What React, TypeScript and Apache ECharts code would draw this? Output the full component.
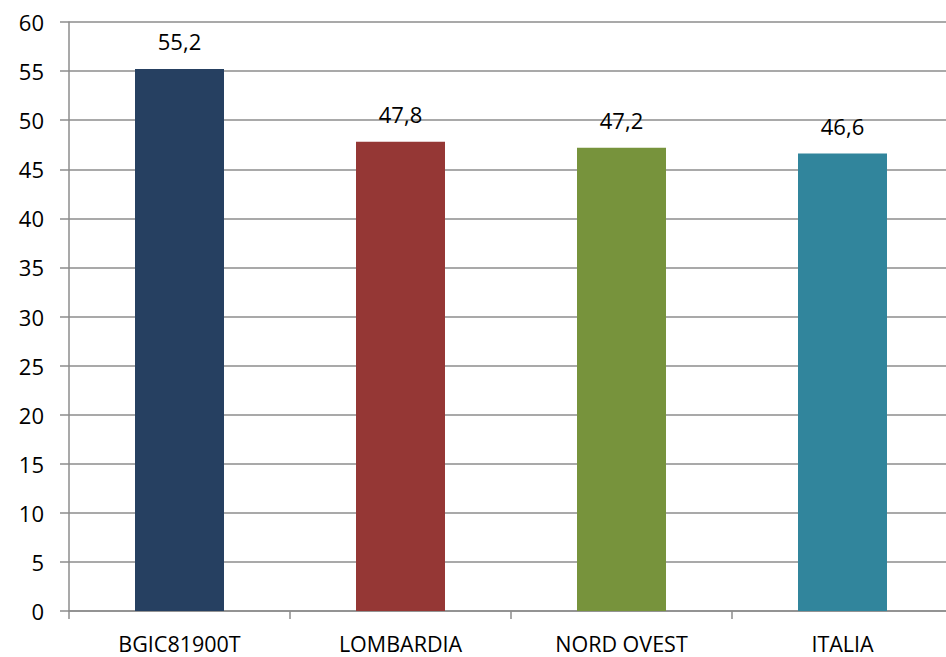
import React, { useEffect, useRef } from "react";
import * as echarts from "echarts";

const categories = ["BGIC81900T", "LOMBARDIA", "NORD OVEST", "ITALIA"];
const values = [55.2, 47.8, 47.2, 46.6];
const barColors = ["#264061", "#953735", "#77933C", "#31859C"];
const yTicks = { min: 0, max: 60, interval: 5 };

export default function App() {
  const ref = useRef<HTMLDivElement>(null);
  useEffect(() => {
    const chart = echarts.init(ref.current!, null, { renderer: "svg" });
    const axisColor = "#8c8c8c";
    const font = "Open Sans";
    chart.setOption({
      animation: false,
      textStyle: { fontFamily: font },
      grid: { left: 69, top: 22, right: 7, bottom: 46 },
      xAxis: {
        type: "category",
        data: categories,
        axisLine: { lineStyle: { color: axisColor, width: 1.5 } },
        axisTick: { show: true, length: 8, lineStyle: { color: axisColor, width: 1.5 } },
        axisLabel: { color: "#000", fontSize: 21.5, margin: 21, fontFamily: font },
      },
      yAxis: {
        type: "value",
        min: yTicks.min,
        max: yTicks.max,
        interval: yTicks.interval,
        axisLine: { show: true, lineStyle: { color: axisColor, width: 1.5 } },
        axisTick: { show: true, length: 9, lineStyle: { color: axisColor, width: 1.5 } },
        splitLine: { show: true, lineStyle: { color: axisColor, width: 1.5 } },
        axisLabel: { color: "#000", fontSize: 22, margin: 25, fontFamily: font },
      },
      series: [
        {
          type: "bar",
          barWidth: 89,
          data: values.map((v, i) => ({ value: v, itemStyle: { color: barColors[i] } })),
          label: {
            show: true,
            position: "top",
            distance: 17,
            color: "#000",
            fontSize: 22,
            fontFamily: font,
            formatter: (p: any) => String(p.value).replace(".", ","),
          },
        },
      ],
    });
    return () => chart.dispose();
  }, []);
  return (
    <div style={{ position: "absolute", left: 0, top: 0, width: 946, height: 657, overflow: "hidden", background: "#fff" }}>
      <div ref={ref} style={{ position: "absolute", left: 0, top: 0, width: 960, height: 657 }} />
    </div>
  );
}
